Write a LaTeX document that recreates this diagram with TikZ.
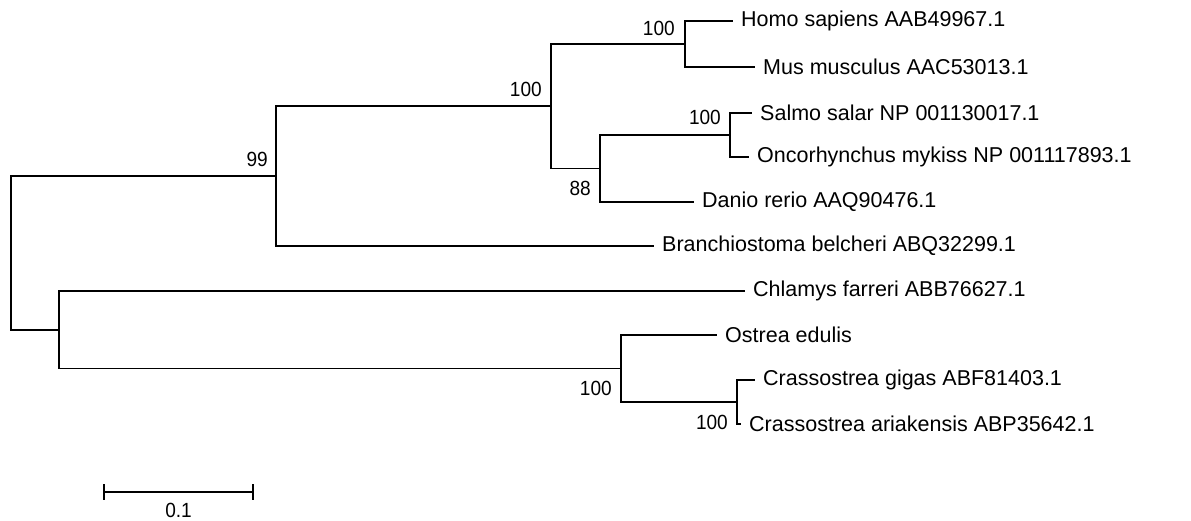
\documentclass[tikz,border=0pt]{standalone}
\usepackage{fontspec}
\setmainfont{Liberation Sans}
\newfontfamily\bootfont[FakeStretch=0.93]{Liberation Sans}
\usepackage{tikz}
\usetikzlibrary{positioning,calc}

\begin{document}
\begin{tikzpicture}[
      x=1pt, y=-1pt,
      branch/.style={line width=1.5pt, color=black},
      taxon/.style={anchor=west, inner xsep=8pt, inner ysep=0pt,
                    font=\fontsize{21.5}{24}\selectfont},
      boot/.style={inner sep=0pt, font=\bootfont\fontsize{20.5}{22}\selectfont}
    ]
      \useasboundingbox (0,0) rectangle (1191,521);
      %% internal nodes
      \coordinate (root) at (11,253);
      \coordinate (chord) at (276,176);
      \coordinate (vert) at (551,106);
      \coordinate (mammal) at (685,44);
      \coordinate (fish) at (600,168.5);
      \coordinate (salmonid) at (730,135);
      \coordinate (mollusc) at (59,330);
      \coordinate (oyster) at (621,368.5);
      \coordinate (crasso) at (737,402);
      %% leaves
      \node[taxon] (homo) at (733,21) {Homo sapiens AAB49967.1};
      \node[taxon] (mus) at (755,67) {Mus musculus AAC53013.1};
      \node[taxon] (salmo) at (752,113) {Salmo salar NP 001130017.1};
      \node[taxon] (onco) at (749,157) {Oncorhynchus mykiss NP 001117893.1};
      \node[taxon] (danio) at (694,202) {Danio rerio AAQ90476.1};
      \node[taxon] (branchio) at (654,246) {Branchiostoma belcheri ABQ32299.1};
      \node[taxon] (chlamys) at (745,291) {Chlamys farreri ABB76627.1};
      \node[taxon] (ostrea) at (717,335) {Ostrea edulis};
      \node[taxon] (gigas) at (755,380) {Crassostrea gigas ABF81403.1};
      \node[taxon] (ariak) at (741,424) {Crassostrea ariakensis ABP35642.1};
      %% branches
      \draw[branch] (root) |- (chord);
      \draw[branch] (root) |- (mollusc);
      \draw[branch] (chord) |- (vert);
      \draw[branch] (chord) |- (branchio.west);
      \draw[branch] (vert) |- (mammal);
      \draw[branch] (vert) |- (fish);
      \draw[branch] (mammal) |- (homo.west);
      \draw[branch] (mammal) |- (mus.west);
      \draw[branch] (fish) |- (salmonid);
      \draw[branch] (fish) |- (danio.west);
      \draw[branch] (salmonid) |- (salmo.west);
      \draw[branch] (salmonid) |- (onco.west);
      \draw[branch] (mollusc) |- (chlamys.west);
      \draw[branch] (mollusc) |- (oyster);
      \draw[branch] (oyster) |- (ostrea.west);
      \draw[branch] (oyster) |- (crasso);
      \draw[branch] (crasso) |- (gigas.west);
      \draw[branch] (crasso) |- (ariak.west);
      %% bootstrap values
      \node[boot, anchor=base east] (bChord) at ($(chord)+(-8,-9)$) {99};
      \node[boot, anchor=base east] (bVert) at ($(vert)+(-9,-9)$) {100};
      \node[boot, anchor=base east] (bMammal) at ($(mammal)+(-10,-8)$) {100};
      \node[boot, anchor=base east] (bSalmonid) at ($(salmonid)+(-9,-10)$) {100};
      \node[boot, anchor=north east] (bFish) at ($(fish)+(-9,12)$) {88};
      \node[boot, anchor=north east] (bOyster) at ($(oyster)+(-9,12)$) {100};
      \node[boot, anchor=north east] (bCrasso) at ($(crasso)+(-9,13)$) {100};
      %% scale bar
      \coordinate (barL) at (104,492);
      \coordinate (barR) at (253,492);
      \draw[branch] (barL) -- (barR);
      \draw[branch] ($(barL)+(0,-8)$) -- ($(barL)+(0,8)$);
      \draw[branch] ($(barR)+(0,-8)$) -- ($(barR)+(0,8)$);
      \node[boot, anchor=north] (barlab) at ($(barL)!0.5!(barR)+(0,11)$) {0.1};
    \end{tikzpicture}
\end{document}
